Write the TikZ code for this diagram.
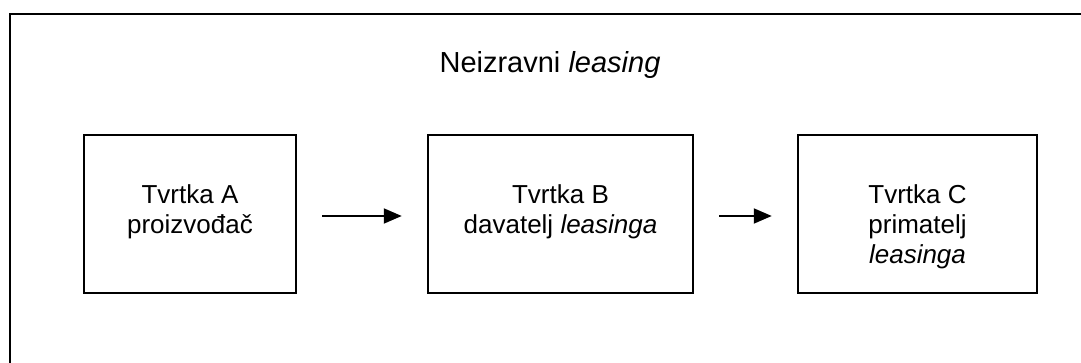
\documentclass[tikz,border=0pt]{standalone}
\usepackage{fontspec}
\setmainfont{Liberation Sans}
\usetikzlibrary{arrows.meta, positioning}

\begin{document}
\begin{tikzpicture}[x=0.5pt, y=0.5pt,
    firma/.style={draw, line width=0.75pt, minimum height=79pt, inner sep=0pt},
    natpis/.style={align=center, inner sep=0pt, font=\fontsize{13}{15}\selectfont},
    strelica/.style={-{Triangle[length=9pt,width=7.5pt]}, line width=1pt,
        shorten >=12.75pt, shorten <=12.75pt}]
    \useasboundingbox (0,0) rectangle (1081,363);

    % outer frame (cut off right and bottom)
    \draw[line width=1pt] (9.5,-5) -- (9.5,348.5) -- (1090,348.5);

    % title
    \node[font=\fontsize{14.5}{17}\selectfont, anchor=base] (naslov) at (550,290) {Neizravni \textit{leasing}};

    % boxes
    \node[firma, minimum width=106pt] (a) at (190,149) {};
    \node[firma, minimum width=132.5pt] (b) at (560.5,149) {};
    \node[firma, minimum width=119.5pt] (c) at (917.5,149) {};

    % box texts
    \node[natpis, below=25pt of a.north] (a tekst) {Tvrtka A\\proizvođač};
    \node[natpis, below=25pt of b.north] (b tekst) {Tvrtka B\\davatelj \textit{leasinga}};
    \node[natpis, below=25pt of c.north] (c tekst) {Tvrtka C\\primatelj\\\textit{leasinga}};

    % arrows
    \draw[strelica] ([yshift=-1pt]a.east) -- ([yshift=-1pt]b.west);
    \draw[strelica] ([yshift=-1pt]b.east) -- ([yshift=-1pt]c.west);
\end{tikzpicture}
\end{document}
